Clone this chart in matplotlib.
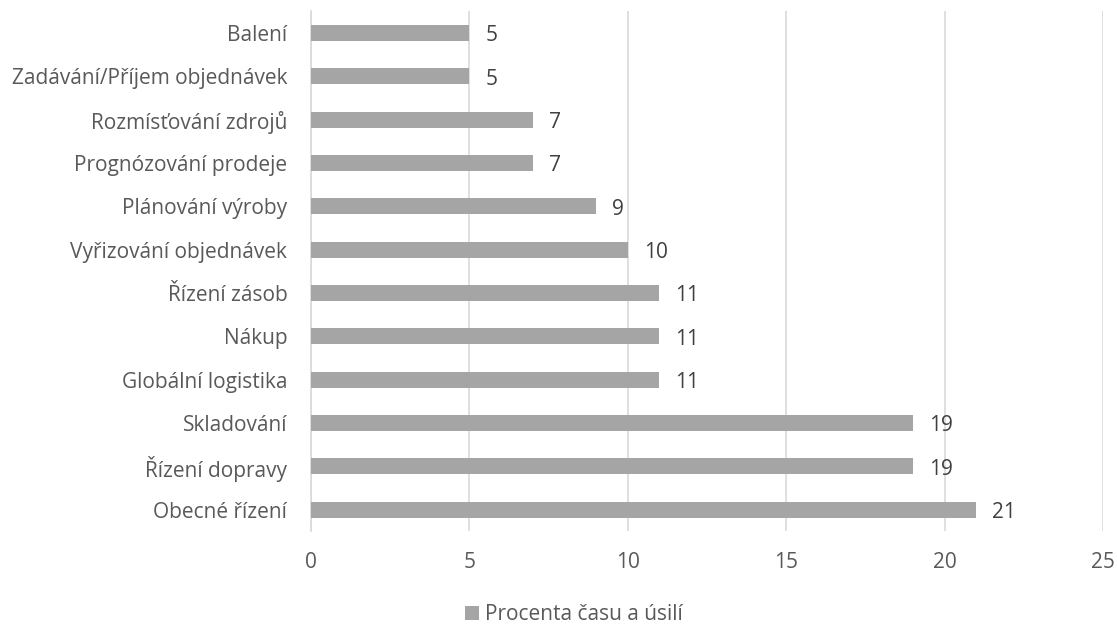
import matplotlib.pyplot as plt
import numpy as np

plt.rcParams['font.family'] = ['Open Sans', 'DejaVu Sans']

kategorie = ["Balení", "Zadávání/Příjem objednávek", "Rozmísťování zdrojů",
             "Prognózování prodeje", "Plánování výroby", "Vyřizování objednávek",
             "Řízení zásob", "Nákup", "Globální logistika", "Skladování",
             "Řízení dopravy", "Obecné řízení"]
hodnoty = [5, 5, 7, 7, 9, 10, 11, 11, 11, 19, 19, 21]
osa_x = [0, 5, 10, 15, 20, 25]

barva = "#A5A5A5"
text_barva = "#595959"
fs = 15

fig = plt.figure(figsize=(11.17, 6.25), dpi=100)
ax = fig.add_axes([0.2784, 0.150, 0.7091, 0.832])

y = np.arange(len(kategorie))[::-1]
bars = ax.barh(y, hodnoty, height=0.37, color=barva, label="Procenta času a úsilí", zorder=3)

for b, v in zip(bars, hodnoty):
    ax.text(b.get_width() + 0.5, b.get_y() + b.get_height() / 2 - 0.07, str(v),
            va="center", ha="left", fontsize=fs, color="#404040")

ax.set_xlim(0, 25)
ax.set_ylim(-0.5, len(kategorie) - 0.5)
ax.set_xticks(osa_x)
ax.set_yticks(y)
ax.set_yticklabels(kategorie)
ax.tick_params(axis="both", length=0, labelsize=fs, colors=text_barva)
ax.tick_params(axis="x", pad=15)
ax.tick_params(axis="y", pad=17)
ax.xaxis.grid(True, color="#D9D9D9", linewidth=1.2, zorder=0)
for s in ["top", "right", "bottom"]:
    ax.spines[s].set_visible(False)
ax.spines["left"].set_color("#D9D9D9")
ax.spines["left"].set_linewidth(1.2)

fig.legend(loc="center", bbox_to_anchor=(0.514, 0.016), frameon=False, fontsize=fs,
           handlelength=0.67, handleheight=0.67, handletextpad=0.3, labelcolor=text_barva,
           borderpad=0)

fig.savefig("out.png", dpi=100)
